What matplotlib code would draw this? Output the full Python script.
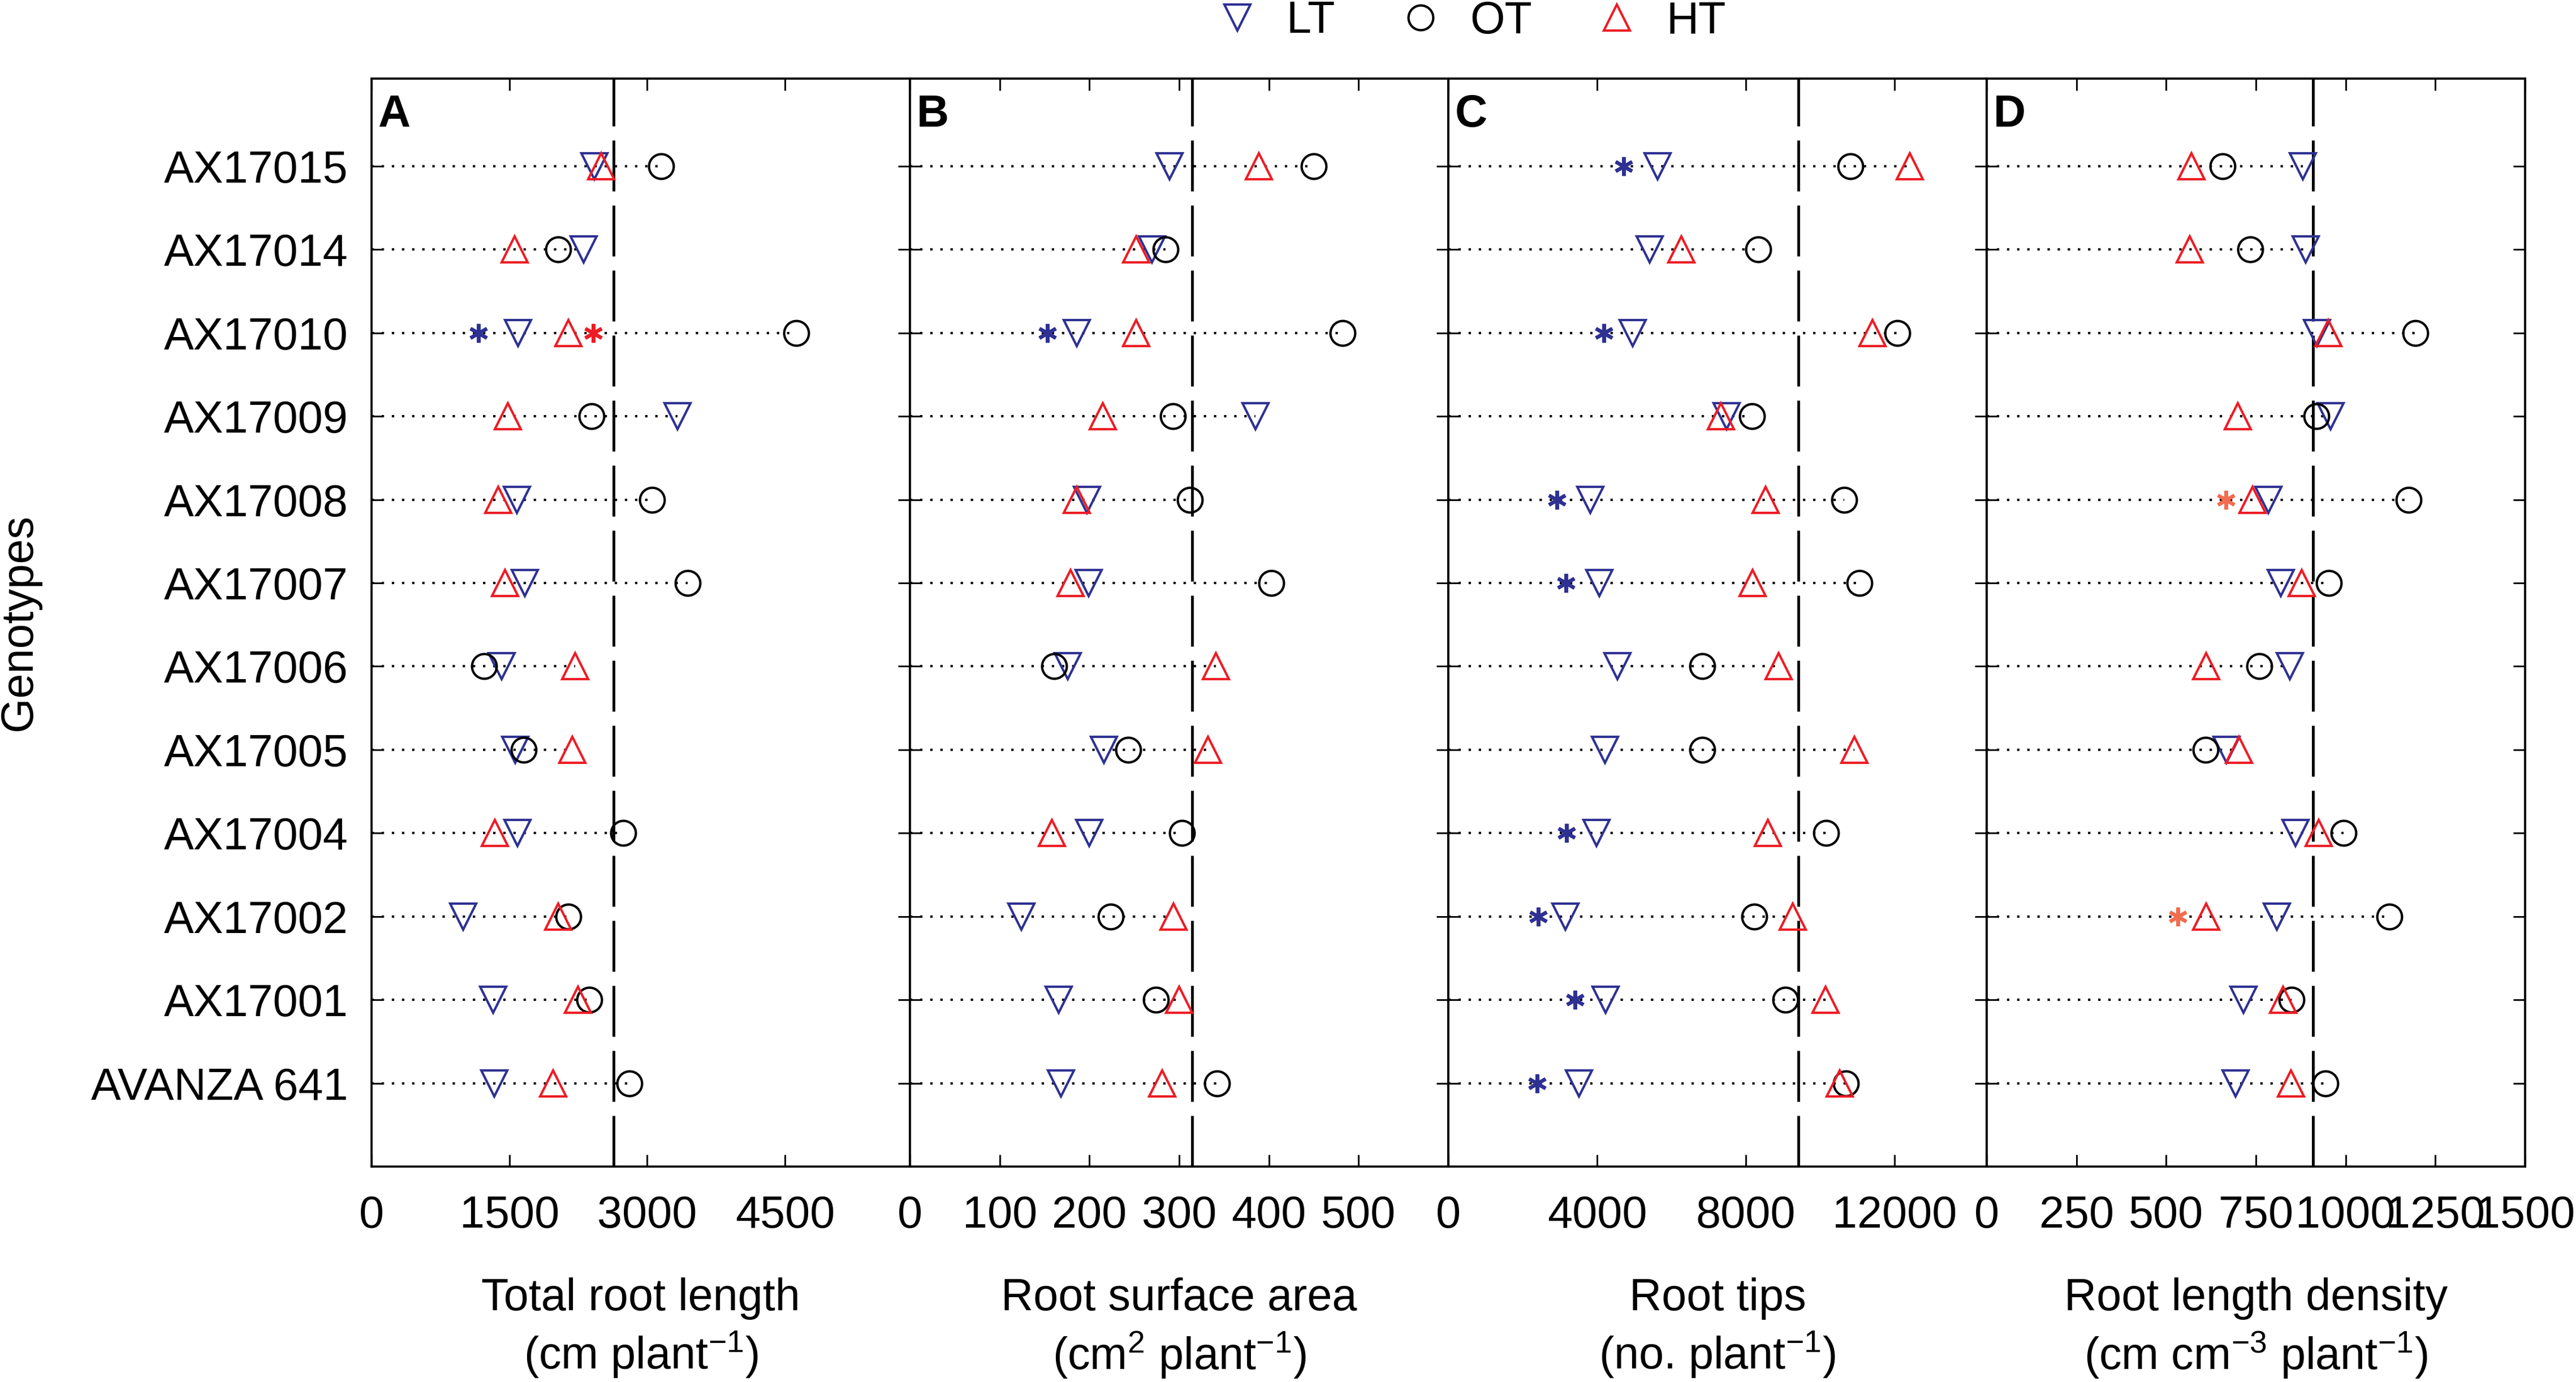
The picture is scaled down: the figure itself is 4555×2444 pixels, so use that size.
import numpy as np
import matplotlib
matplotlib.use("Agg")
import matplotlib.pyplot as plt
from matplotlib.lines import Line2D

plt.rcParams['font.family'] = ['Liberation Sans', 'DejaVu Sans']
plt.rcParams['mathtext.fontset'] = 'custom'
plt.rcParams['mathtext.rm'] = 'Liberation Sans'
plt.rcParams['mathtext.it'] = 'Liberation Sans:italic'
plt.rcParams['mathtext.bf'] = 'Liberation Sans:bold'

genotypes = ["AX17015", "AX17014", "AX17010", "AX17009", "AX17008", "AX17007",
             "AX17006", "AX17005", "AX17004", "AX17002", "AX17001", "AVANZA 641"]

# Panel A: Total root length (cm plant-1)
trl_lt = [2426, 2310, 1594, 3330, 1583, 1669, 1414, 1564, 1586, 998, 1324, 1335]
trl_ot = [3154, 2033, 4624, 2393, 3053, 3439, 1226, 1654, 2741, 2145, 2370, 2805]
trl_ht = [2501, 1560, 2145, 1485, 1380, 1451, 2216, 2183, 1339, 2029, 2246, 1973]
trl_lt_star = [np.nan, np.nan, 1166, np.nan, np.nan, np.nan, np.nan, np.nan, np.nan, np.nan, np.nan, np.nan]
trl_ht_star = [np.nan, np.nan, 2411, np.nan, np.nan, np.nan, np.nan, np.nan, np.nan, np.nan, np.nan, np.nan]

# Panel B: Root surface area (cm2 plant-1)
rsa_lt = [289, 270, 186, 385, 197, 199, 176, 216, 200, 124, 166, 168]
rsa_ot = [450, 285, 482, 293, 312, 403, 161, 243, 303, 224, 274, 342]
rsa_ht = [389, 252, 252, 215, 186, 179, 341, 332, 158, 294, 300, 281]
rsa_lt_star = [np.nan, np.nan, 153, np.nan, np.nan, np.nan, np.nan, np.nan, np.nan, np.nan, np.nan, np.nan]
rsa_ht_star = [np.nan] * 12

# Panel C: Root tips (no. plant-1)
rt_lt = [5626, 5413, 4961, 7483, 3824, 4065, 4554, 4212, 3991, 3150, 4231, 3520]
rt_ot = [10808, 8342, 12083, 8166, 10651, 11058, 6836, 6827, 10162, 8222, 9072, 10688]
rt_ht = [12406, 6273, 11400, 7326, 8527, 8176, 8887, 10919, 8600, 9266, 10152, 10531]
rt_lt_star = [4720, np.nan, 4176, np.nan, 2919, 3159, np.nan, np.nan, 3178, 2411, 3400, 2393]
rt_ht_star = [np.nan] * 12

# Panel D: Root length density (cm cm-3 plant-1)
rld_lt = [881, 889, 920, 958, 784, 819, 845, 668, 861, 809, 716, 694]
rld_ot = [657, 735, 1195, 918, 1175, 953, 760, 610, 994, 1122, 849, 944]
rld_ht = [571, 566, 951, 700, 740, 878, 611, 703, 925, 612, 826, 847]
rld_lt_star = [np.nan] * 12
rld_ht_star = [np.nan, np.nan, np.nan, np.nan, 666, np.nan, np.nan, np.nan, np.nan, 532, np.nan, np.nan]

panel_letters = ["A", "B", "C", "D"]
xlabels = ["Total root length\n(cm plant$^{\\mathregular{-1}}$)",
           "Root surface area\n(cm$^{\\mathregular{2}}$ plant$^{\\mathregular{-1}}$)",
           "Root tips\n(no. plant$^{\\mathregular{-1}}$)",
           "Root length density\n(cm cm$^{\\mathregular{-3}}$ plant$^{\\mathregular{-1}}$)"]
xticks_list = [[0, 1500, 3000, 4500], [0, 100, 200, 300, 400, 500],
               [0, 4000, 8000, 12000], [0, 250, 500, 750, 1000, 1250, 1500]]
xlims = [5860, 600, 14480, 1500]

panels = [
    (trl_lt, trl_ot, trl_ht, trl_lt_star, trl_ht_star),
    (rsa_lt, rsa_ot, rsa_ht, rsa_lt_star, rsa_ht_star),
    (rt_lt, rt_ot, rt_ht, rt_lt_star, rt_ht_star),
    (rld_lt, rld_ot, rld_ht, rld_lt_star, rld_ht_star),
]
ht_star_colors = ["#ed1c24", "#ed1c24", "#ed1c24", "#f26c4f"]

BLUE = "#2e3192"
RED = "#ed1c24"

W, H = 4555, 2444
fig = plt.figure(figsize=(W / 300, H / 300), dpi=300)

left_px, right_px, top_px, bot_px = 657, 4465, 139, 2063
pw = (right_px - left_px) / 4
FS = 19

n = len(genotypes)
ypos = np.arange(n)[::-1]

axes = []
for i, (lt, ot, ht, lts, hts) in enumerate(panels):
    ax = fig.add_axes([(left_px + i * pw) / W, 1 - bot_px / H, pw / W, (bot_px - top_px) / H])
    axes.append(ax)
    lt = np.array(lt, float); ot = np.array(ot, float); ht = np.array(ht, float)
    mx = np.nanmax(np.vstack([lt, ot, ht]), axis=0)
    for y, m in zip(ypos, mx):
        ax.plot([0, m], [y, y], color='black', lw=1.0, linestyle=(0, (1, 3.3)), zorder=1)
    ax.axvline(np.mean(ot), color='black', lw=1.2, linestyle=(0, (18, 5)), zorder=1.5)
    ax.plot(lt, ypos, linestyle='none', marker='v', ms=11, mfc='none', mec=BLUE, mew=1.0, zorder=3)
    ax.plot(ot, ypos, linestyle='none', marker='o', ms=10.5, mfc='none', mec='black', mew=1.0, zorder=3)
    ax.plot(ht, ypos, linestyle='none', marker='^', ms=11, mfc='none', mec=RED, mew=1.0, zorder=3)
    ax.plot(np.array(lts, float), ypos, linestyle='none', marker=(6, 2, 0), ms=8,
            mec=BLUE, mew=1.5, zorder=3)
    ax.plot(np.array(hts, float), ypos, linestyle='none', marker=(6, 2, 0), ms=8,
            mec=ht_star_colors[i], mew=1.5, zorder=3)

    ax.set_xlim(0, xlims[i])
    ax.set_ylim(-1.0, n + 0.05)
    ax.set_xticks(xticks_list[i])
    ax.set_xticklabels([str(t) for t in xticks_list[i]])
    ax.set_yticks(ypos)
    if i == 0:
        ax.set_yticklabels(genotypes)
    else:
        ax.set_yticklabels([])
    ax.tick_params(axis='both', direction='in', top=True, right=True, length=5,
                   width=0.7, labelsize=FS)
    ax.tick_params(axis='x', pad=12)
    ax.tick_params(axis='y', pad=10)
    for s in ax.spines.values():
        s.set_linewidth(0.9)
    ax.set_xlabel(xlabels[i], fontsize=FS, labelpad=17, linespacing=1.25)
    ax.text(0.012, 0.986, panel_letters[i], transform=ax.transAxes, ha='left', va='top',
            fontsize=FS, fontweight='bold')

fig.text(35 / W, 1 - ((top_px + bot_px) / 2) / H, "Genotypes", rotation=90,
         ha='center', va='center', fontsize=FS)

handles = [Line2D([], [], linestyle='none', marker='v', ms=11, mfc='none', mec=BLUE, mew=1.0),
           Line2D([], [], linestyle='none', marker='o', ms=10.5, mfc='none', mec='black', mew=1.0),
           Line2D([], [], linestyle='none', marker='^', ms=11, mfc='none', mec=RED, mew=1.0)]
fig.legend(handles, ["LT", "OT", "HT"], loc='center', ncol=3, frameon=False,
           bbox_to_anchor=(2600 / W, 1 - 38 / H), fontsize=FS,
           handlelength=1.0, handletextpad=0.6, columnspacing=1.4, borderpad=0.0)

fig.savefig("out.png", dpi=300)
